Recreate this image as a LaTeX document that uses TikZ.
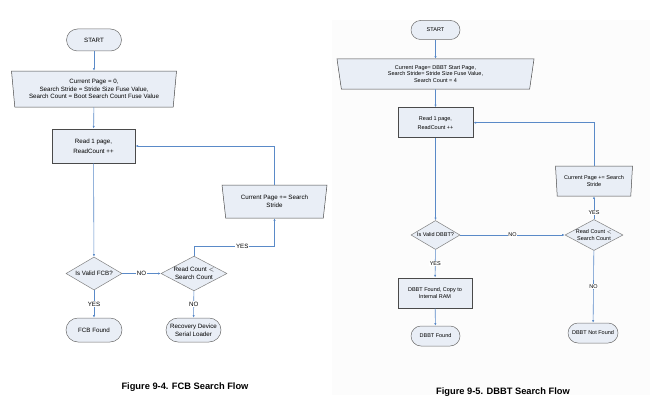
\documentclass[tikz,border=0pt]{standalone}
\usepackage{fontspec}
\setmainfont{Liberation Sans}
\usetikzlibrary{shapes.geometric,arrows.meta,calc}
\definecolor{boxfill}{HTML}{E9EEF6}
\definecolor{boxline}{HTML}{4A4A4A}
\definecolor{arrowc}{HTML}{5A8AC8}
\tikzset{
  base/.style={fill=boxfill,draw=boxline,line width=0.5pt,align=center,inner sep=0pt,font=\fontsize{6.2}{7.6}\selectfont},
  term/.style={base,rectangle,rounded corners=#1,draw=boxline!80},
  proc/.style={base,rectangle,line width=0.9pt},
  trap/.style={base,trapezium,trapezium stretches body,shape border rotate=180},
  dec/.style={base,diamond,draw=boxline!70,aspect=1.8},
  flow/.style={draw=arrowc,line width=0.6pt,-{Latex[length=2.6pt,width=2.2pt]}},
  lbl/.style={fill=white,inner sep=0.8pt,font=\fontsize{6.2}{7}\selectfont},
  small/.style={font=\fontsize{5.5}{6.8}\selectfont},
  figcaption/.style={font=\fontsize{9.3}{10}\selectfont\bfseries}
}
\begin{document}
\begin{tikzpicture}[x=1pt,y=-1pt]
\useasboundingbox (0,0) rectangle (650,404);
\fill[black!1] (332,20) rectangle (650,395);
% ---------------- Left: FCB search flow
\node[term=11pt,minimum width=55pt,minimum height=22pt] (s1) at (94,40) {START};
\node[trap,trapezium left angle=80.5,trapezium right angle=80.5,minimum width=165pt,minimum height=36pt] (i1) at (94,89)
  {Current Page = 0,\\Search Stride = Stride Size Fuse Value,\\Search Count = Boot Search Count Fuse Value};
\node[proc,minimum width=83pt,minimum height=34pt,font=\fontsize{6.2}{10}\selectfont] (r1) at (93.5,146) {Read 1 page,\\ReadCount ++};
\node[dec,minimum width=56pt,minimum height=33pt] (d1) at (94,273.5) {Is Valid FCB?};
\node[dec,minimum width=66pt,minimum height=33pt] (d2) at (194,273.5) {Read Count $<$\\Search Count};
\node[trap,trapezium left angle=73,trapezium right angle=73,minimum width=105pt,minimum height=33pt] (u1) at (274.5,201.5) {Current Page += Search\\Stride};
\node[term=12pt,minimum width=56pt,minimum height=24pt] (f1) at (94,330) {FCB Found};
\node[term=12pt,minimum width=55pt,minimum height=24pt] (rc) at (193.5,330) {Recovery Device\\Serial Loader};
\coordinate (y1) at (0,246.7);
\draw[flow] (s1) -- (i1);
\draw[flow] (i1) -- (r1);
\draw[flow] (r1) -- (d1);
\draw[flow] (d1) -- node[lbl] {NO} (d2);
\draw[flow] (d1) -- node[lbl] {YES} (f1);
\draw[flow] (d2) -- node[lbl] {NO} (rc);
\draw[flow] (d2.north) -- (d2.north |- y1) -- node[lbl,pos=0.6] {YES} (u1.south |- y1) -- (u1.south);
\draw[flow] (u1.north) |- (r1.east);
\node[figcaption] (c1) at (185,387) {Figure 9-4. FCB Search Flow};
% ---------------- Right: DBBT search flow
\node[term=9.5pt,minimum width=49pt,minimum height=19pt,small] (s2) at (435.5,30) {START};
\node[trap,small,trapezium left angle=76,trapezium right angle=76,minimum width=197pt,minimum height=30pt] (i2) at (435.5,74)
  {Current Page= DBBT Start Page,\\Search Stride= Stride Size Fuse Value,\\Search Count = 4};
\node[proc,minimum width=75pt,minimum height=30pt,font=\fontsize{5.5}{9}\selectfont] (r2) at (435.5,122.7) {Read 1 page,\\ReadCount ++};
\node[dec,small,minimum width=49pt,minimum height=29pt] (d3) at (435.5,235) {Is Valid DBBT?};
\node[proc,small,minimum width=74pt,minimum height=30pt] (b2) at (435,293) {DBBT Found, Copy to\\Internal RAM};
\node[term=10pt,small,minimum width=49pt,minimum height=20pt] (f2) at (435.5,336) {DBBT Found};
\node[dec,small,minimum width=58pt,minimum height=29pt] (d4) at (594,235) {Read Count $<$\\Search Count};
\node[trap,small,trapezium left angle=81,trapezium right angle=81,minimum width=77pt,minimum height=30pt] (u2) at (594,181) {Current Page += Search\\Stride};
\node[term=10pt,small,minimum width=50pt,minimum height=20pt] (nf) at (593,333) {DBBT Not Found};
\draw[flow] (s2) -- (i2);
\draw[flow] (i2) -- (r2);
\draw[flow] (r2) -- (d3);
\draw[flow] (d3) -- node[lbl,small] {YES} (b2);
\draw[flow] (b2) -- (f2);
\draw[flow] (d3) -- node[lbl,small] {NO} (d4);
\draw[flow] (d4) -- node[lbl,small,pos=0.3] {YES} (u2);
\draw[flow] (d4) -- node[lbl,small] {NO} (nf);
\draw[flow] (u2.north) |- (r2.east);
\node[figcaption] (c2) at (503,392) {Figure 9-5. DBBT Search Flow};
\end{tikzpicture}
\end{document}
